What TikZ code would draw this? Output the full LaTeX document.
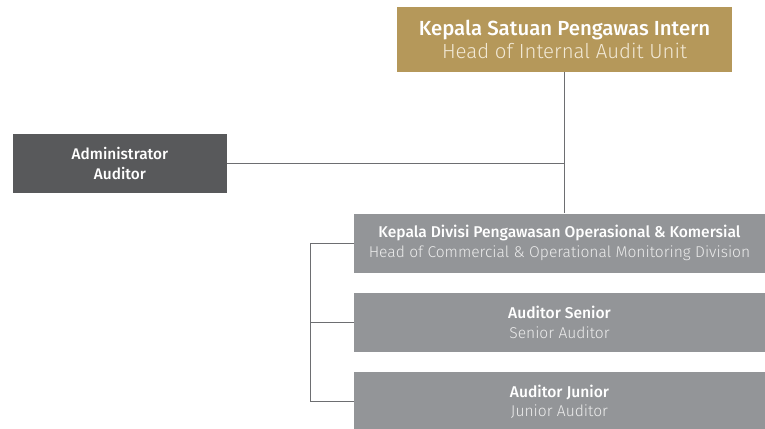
\documentclass[tikz,border=0pt]{standalone}
\usepackage{fontspec}
\setmainfont{Fira Sans}[BoldFont={Fira Sans Medium},ItalicFont={Fira Sans Light}]
\definecolor{gold}{HTML}{B5985A}
\definecolor{darkbox}{HTML}{58595B}
\definecolor{graybox}{HTML}{939598}
\definecolor{linegray}{HTML}{6D6E71}
\definecolor{goldsub}{HTML}{F2E9D6}
\definecolor{graysub}{HTML}{ECECEC}
\newcommand{\subline}[2]{{\fontshape{it}\selectfont\textcolor{#1}{#2}}}
\begin{document}
\begin{tikzpicture}[x=1pt,y=-1pt,
  box/.style={draw=none,inner sep=0pt,align=center,text=white},
  topbox/.style={box,fill=gold,minimum width=335pt,minimum height=65pt,font=\fontsize{20.4}{23.5}\selectfont},
  adminbox/.style={box,fill=darkbox,minimum width=214pt,minimum height=59pt,font=\fontsize{15.4}{19.5}\selectfont},
  graybx/.style={box,fill=graybox,minimum width=411pt,minimum height=59pt,font=\fontsize{15.6}{19.5}\selectfont},
  conn/.style={draw=linegray,line width=1pt}]
\useasboundingbox (0,0) rectangle (765,428);
\node[topbox] (top) at (564.5,39.5) {\textbf{Kepala Satuan Pengawas Intern}\\\subline{goldsub}{Head of Internal Audit Unit}};
\node[adminbox] (admin) at (120,163.5) {\textbf{Administrator}\\\textbf{Auditor}};
\node[graybx] (div) at (559.5,243) {\textbf{Kepala Divisi Pengawasan Operasional \& Komersial}\\\subline{graysub}{Head of Commercial \& Operational Monitoring Division}};
\node[graybx] (senior) at (559.5,322.5) {\textbf{Auditor Senior}\\\subline{graysub}{Senior Auditor}};
\node[graybx] (junior) at (559.5,401.5) {\textbf{Auditor Junior}\\\subline{graysub}{Junior Auditor}};
\coordinate (joint) at (top.south |- admin.east);
\draw[conn] (top.south) -- (top.south |- div.north);
\draw[conn] (admin.east) -- (joint);
\coordinate (bend) at (310,0);
\draw[conn] (div.west) -- (bend |- div.west) -- (bend |- junior.west) -- (junior.west);
\draw[conn] (senior.west) -- (bend |- senior.west);
\end{tikzpicture}
\end{document}
